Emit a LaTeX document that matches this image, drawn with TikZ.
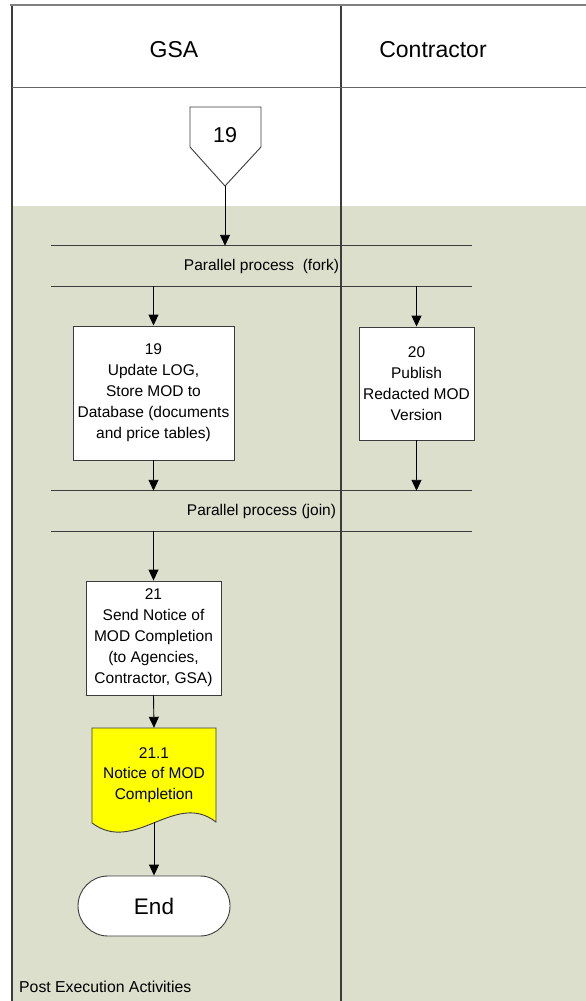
\documentclass[tikz,border=0pt]{standalone}
\usepackage{fontspec}
\setmainfont{Liberation Sans}
\usetikzlibrary{arrows.meta,positioning}
\definecolor{lanegreen}{RGB}{220,223,204}
\definecolor{laneline}{RGB}{60,60,60}
\definecolor{docyellow}{RGB}{255,255,0}
\begin{document}
\begin{tikzpicture}[x=1pt,y=-1pt,
  head/.style={font=\fontsize{23}{26}\selectfont},
  task/.style={draw=laneline,fill=white,align=center,inner sep=0pt,line width=0.9pt,font=\fontsize{15.5}{21}\selectfont},
  bar/.style={minimum width=421pt,minimum height=40pt,inner sep=0pt,font=\fontsize{15.5}{19}\selectfont},
  barline/.style={draw=laneline,line width=1.1pt},
  flow/.style={-{Triangle[length=11pt,width=10pt]},line width=0.9pt},
  term/.style={draw=laneline,fill=white,rounded corners=30pt,minimum width=152pt,minimum height=60pt,line width=0.9pt,font=\fontsize{22.5}{26}\selectfont}]
\useasboundingbox (0,0) rectangle (586,1001);
% lanes
\fill[lanegreen] (12,206) rectangle (586,1001);
\draw[gray,line width=2pt] (10,5) -- (586,5);
\draw[laneline,line width=1.6pt] (12,6) -- (12,1001) (341,6) -- (341,1001);
\draw[laneline!80,line width=0.8pt] (12,87) -- (586,87);
\node[head] (gsa) at (174,50) {GSA};
\node[head] (contr) at (433,50) {Contractor};
% off-page connector
\draw[laneline,fill=white,line width=0.9pt] (190,107) -- (261,107) -- (261,147) -- (225,186) -- (190,147) -- cycle;
\node[font=\fontsize{21.5}{24}\selectfont] (off19) at (225,135) {19};
\coordinate (off19tip) at (225,186);
% fork
\node[bar] (fork) at (261.5,266) {Parallel process\ \ (fork)};
\draw[barline] (fork.north west) -- (fork.north east) (fork.south west) -- (fork.south east);
\draw[flow] (off19tip) -- (off19tip |- fork.north);
\node[task,minimum width=161pt,minimum height=134pt] (b19) at (153.5,393) {19\\Update LOG,\\Store MOD to\\Database (documents\\and price tables)};
\node[task,minimum width=115pt,minimum height=113pt] (b20) at (416.5,383.5) {20\\Publish\\Redacted MOD\\Version};
\draw[flow] (fork.south -| b19) -- (b19.north);
\draw[flow] (fork.south -| b20) -- (b20.north);
% join
\node[bar] (join) at (261.5,511) {Parallel process (join)};
\draw[barline] (join.north west) -- (join.north east) (join.south west) -- (join.south east);
\draw[flow] (b19.south) -- (b19.south |- join.north);
\draw[flow] (b20.south) -- (b20.south |- join.north);
\node[task,minimum width=135pt,minimum height=114pt] (b21) at (153.5,638) {21\\Send Notice of\\MOD Completion\\(to Agencies,\\Contractor, GSA)};
\draw[flow] (join.south -| b21) -- (b21.north);
% document
\draw[laneline,fill=docyellow,line width=0.9pt] (92,728) -- (216,728) -- (216,822) .. controls (175,790) and (135,855) .. (92,823) -- cycle;
\node[align=center,inner sep=0pt,minimum width=124pt,minimum height=94pt,font=\fontsize{15.5}{20.5}\selectfont] (d211) at (154,775) {21.1\\Notice of MOD\\Completion};
\draw[flow] (b21.south) -- (d211.north);
\node[term] (stop) at (154,906) {End};
\draw[flow] (d211.south) -- (stop.north);
\node[anchor=west,inner sep=0pt,font=\fontsize{15.8}{19}\selectfont] (phase) at (19,987) {Post Execution Activities};
\end{tikzpicture}
\end{document}
